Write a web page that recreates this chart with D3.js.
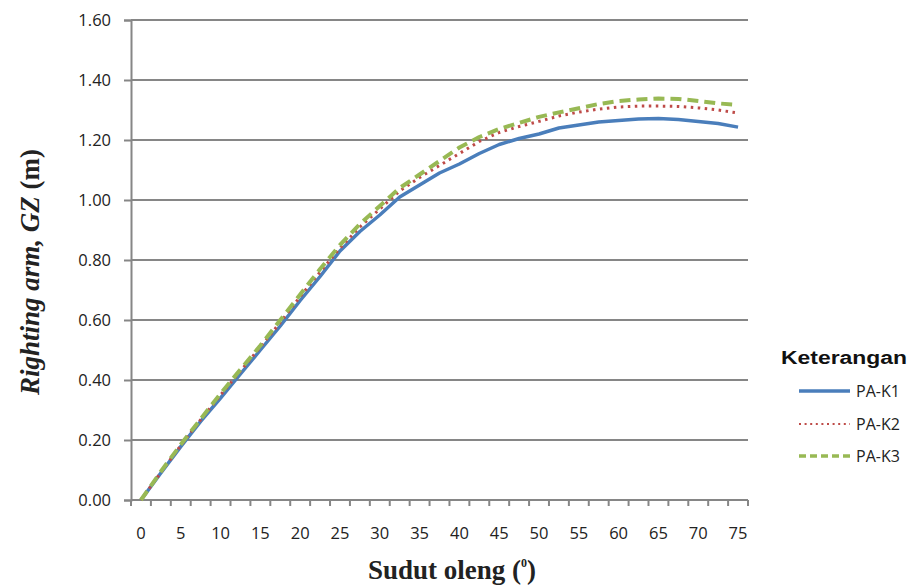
<!DOCTYPE html>
<html>
<head>
<meta charset="utf-8">
<script src="https://cdn.jsdelivr.net/npm/d3@7"></script>
<style>
  html, body { margin: 0; padding: 0; background: #fff; }
  svg { display: block; }
</style>
</head>
<body>
<svg id="chart" width="915" height="586"></svg>
<script>
// ---- data ----
const angles = [0, 2.5, 5, 7.5, 10, 12.5, 15, 17.5, 20, 22.5, 25, 27.5, 30, 32.5, 35, 37.5,
                40, 42.5, 45, 47.5, 50, 52.5, 55, 57.5, 60, 62.5, 65, 67.5, 70, 72.5, 75];
const paK1 = [0.00, 0.09, 0.178, 0.262, 0.34, 0.42, 0.50, 0.58, 0.665, 0.745, 0.83, 0.895, 0.95, 1.01, 1.05, 1.09,
              1.12, 1.155, 1.185, 1.205, 1.22, 1.24, 1.25, 1.26, 1.265, 1.27, 1.272, 1.268, 1.262, 1.255, 1.243];
const paK2 = [0.00, 0.092, 0.182, 0.268, 0.35, 0.43, 0.51, 0.592, 0.678, 0.76, 0.84, 0.91, 0.97, 1.03, 1.075, 1.115,
              1.155, 1.195, 1.225, 1.245, 1.262, 1.28, 1.293, 1.303, 1.31, 1.313, 1.313, 1.312, 1.307, 1.30, 1.29];
const paK3 = [0.00, 0.095, 0.185, 0.27, 0.355, 0.435, 0.515, 0.60, 0.685, 0.77, 0.85, 0.92, 0.98, 1.04, 1.085, 1.13,
              1.175, 1.21, 1.237, 1.257, 1.277, 1.292, 1.306, 1.32, 1.33, 1.335, 1.338, 1.337, 1.33, 1.322, 1.317];
const xTickLabels = [0, 5, 10, 15, 20, 25, 30, 35, 40, 45, 50, 55, 60, 65, 70, 75];
const yTicks = [0, 0.2, 0.4, 0.6, 0.8, 1.0, 1.2, 1.4, 1.6];
const seriesNames = ["PA-K1", "PA-K2", "PA-K3"];
const legendTitle = "Keterangan";

(function () {
// ---- layout ----
const svg = d3.select("#chart");
const pLeft = 131, pRight = 748, pTop = 20, pBottom = 500;
const gridColor = "#868686";
const tickFont = "'Open Sans', sans-serif";

const x = d3.scaleBand().domain(angles).range([pLeft, pRight]).padding(0);
const y = d3.scaleLinear().domain([0, 1.6]).range([pBottom, pTop]);
const cx = d => x(d) + x.bandwidth() / 2;

// gridlines
svg.append("g").selectAll("line").data(yTicks.filter(v => v > 0)).join("line")
  .attr("x1", pLeft).attr("x2", pRight)
  .attr("y1", d => y(d)).attr("y2", d => y(d))
  .attr("stroke", gridColor).attr("stroke-width", 2);

// y axis
const yAxis = svg.append("g").attr("transform", `translate(${pLeft},0)`)
  .call(d3.axisLeft(y).tickValues(yTicks).tickFormat(d3.format(".2f")).tickSize(7).tickPadding(14));
yAxis.select(".domain").attr("stroke", gridColor).attr("stroke-width", 2);
yAxis.selectAll(".tick line").attr("stroke", gridColor).attr("stroke-width", 2);
yAxis.selectAll(".tick text")
  .attr("x", -20)
  .attr("dy", "0.36em")
  .attr("font-family", tickFont).attr("font-size", 16.5).attr("fill", "#222");

// x axis (category axis, ticks between categories)
const xAxisG = svg.append("g").attr("transform", `translate(0,${pBottom})`);
xAxisG.append("line").attr("x1", pLeft).attr("x2", pRight).attr("y1", 0).attr("y2", 0)
  .attr("stroke", gridColor).attr("stroke-width", 2);
const edges = angles.map(a => x(a)).concat([pRight]);
xAxisG.selectAll("line.tk").data(edges).join("line").attr("class", "tk")
  .attr("x1", d => d).attr("x2", d => d).attr("y1", 0).attr("y2", 6)
  .attr("stroke", gridColor).attr("stroke-width", 2);
xAxisG.selectAll("text").data(xTickLabels).join("text")
  .attr("x", d => cx(d)).attr("y", 39)
  .attr("text-anchor", "middle")
  .attr("font-family", tickFont).attr("font-size", 16.5).attr("fill", "#222")
  .text(d => d);

// lines
const styles = [
  { data: paK1, color: "#4a7ebb", width: 3.5, dash: null },
  { data: paK2, color: "#be4b48", width: 3, dash: "2.5,4.5" },
  { data: paK3, color: "#98b954", width: 4, dash: "11,6" }
];
const line = d3.line().x((d, i) => cx(angles[i])).y(d => y(d));
styles.forEach(s => {
  svg.append("path").datum(s.data)
    .attr("d", line)
    .attr("fill", "none")
    .attr("stroke", s.color)
    .attr("stroke-width", s.width)
    .attr("stroke-linejoin", "round")
    .attr("stroke-dasharray", s.dash);
});

// axis titles
const yt = svg.append("text")
  .attr("transform", "translate(39,272) rotate(-90)")
  .attr("text-anchor", "middle")
  .attr("font-family", "'Liberation Serif', 'Times New Roman', serif")
  .attr("font-size", 27).attr("fill", "#222");
yt.append("tspan").attr("font-style", "italic").attr("font-weight", "bold").text("Righting arm, ");
yt.append("tspan").attr("font-style", "italic").attr("font-weight", "bold").text("GZ");
yt.append("tspan").attr("font-weight", "bold").text(" (m)");

const xt = svg.append("text")
  .attr("x", 452).attr("y", 579)
  .attr("text-anchor", "middle")
  .attr("font-family", "'Liberation Serif', 'Times New Roman', serif")
  .attr("font-size", 27).attr("font-weight", "bold").attr("fill", "#222");
xt.append("tspan").text("Sudut oleng (");
xt.append("tspan").attr("font-size", 12).attr("dy", -12).text("0");
xt.append("tspan").attr("dy", 12).text(")");

// legend
svg.append("text").attr("x", 781).attr("y", 364)
  .attr("font-family", "'Liberation Sans', Arial, sans-serif")
  .attr("font-size", 18).attr("font-weight", "bold").attr("fill", "#111")
  .attr("textLength", 126).attr("lengthAdjust", "spacingAndGlyphs")
  .text(legendTitle);
const legY = [391, 424, 456];
const lg = svg.append("g").selectAll("g").data(seriesNames).join("g")
  .attr("transform", (d, i) => `translate(0,${legY[i]})`);
lg.append("line").attr("x1", 799).attr("x2", 850).attr("y1", 0).attr("y2", 0)
  .attr("stroke", (d, i) => styles[i].color)
  .attr("stroke-width", (d, i) => i === 0 ? 3.5 : (i === 1 ? 2 : 3.5))
  .attr("stroke-dasharray", (d, i) => i === 0 ? null : (i === 1 ? "2,3.6" : "7,4"));
lg.append("text").attr("x", 856).attr("y", 6)
  .attr("font-family", tickFont).attr("font-size", 16).attr("fill", "#222")
  .text(d => d);
})();
</script>
</body>
</html>
